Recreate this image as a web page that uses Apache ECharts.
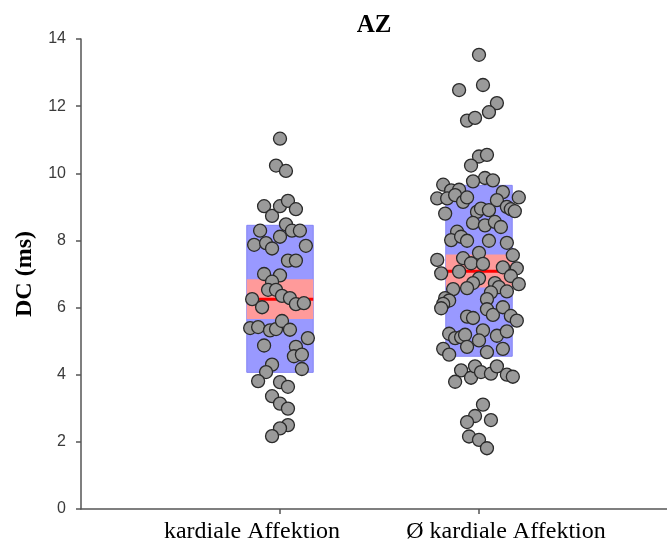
<!DOCTYPE html>
<html>
<head>
<meta charset="utf-8">
<script src="https://cdn.jsdelivr.net/npm/echarts@6/dist/echarts.min.js"></script>
<style>
  html, body { margin: 0; padding: 0; background: #ffffff; }
  #chart { width: 667px; height: 543px; }
</style>
</head>
<body>
<div id="chart"></div>
<script>
// Groups and axis ticks
const categories = ['kardiale Affektion', 'Ø kardiale Affektion'];
const yTicks = [0, 2, 4, 6, 8, 10, 12, 14];

// Per-group summary: mean, mean ± SD (blue band), 95% CI (red band)
const means   = [6.25, 7.08];
const sdLower = [4.07, 4.55];
const sdUpper = [8.45, 9.64];
const ciLower = [5.66, 6.60];
const ciUpper = [6.84, 7.58];

// DC (ms) per patient, with kardialer Affektion
const dcKardial = [
  11.03, 10.23, 10.07, 9.02, 8.73, 9.02, 9.18, 8.93, 8.48, 8.29,
  8.11, 8.29, 8.29, 7.87, 7.92, 7.76, 7.84, 7.40, 7.40, 7.00,
  6.96, 6.77, 6.53, 6.53, 6.35, 6.28, 6.25, 6.01, 6.10, 6.13,
  5.39, 5.42, 5.32, 5.36, 5.60, 5.34, 5.09, 4.87, 4.83, 4.55,
  4.60, 4.17, 4.30, 4.08, 3.81, 3.78, 3.64, 3.36, 3.14, 2.99,
  2.50, 2.40, 2.17
];
// horizontal jitter of each point (category units)
const jitterKardial = [
  0.00, -0.02, 0.03, -0.08, -0.04, 0.00, 0.04, 0.08, 0.03, -0.10,
  0.00, 0.06, 0.10, -0.13, -0.07, -0.04, 0.13, 0.04, 0.08, -0.08,
  0.00, -0.04, -0.06, -0.02, 0.01, 0.05, -0.14, -0.09, 0.08, 0.12,
  -0.15, -0.11, -0.05, -0.02, 0.01, 0.05, 0.14, -0.08, 0.08, 0.07,
  0.11, 0.11, -0.04, -0.07, -0.11, 0.00, 0.04, -0.04, 0.00, 0.04,
  0.04, 0.00, -0.04
];

// DC (ms) per patient, ohne kardiale Affektion
const dcOhne = [
  13.53, 12.48, 12.63, 12.09, 11.82, 11.57, 11.65, 10.50, 10.55,
  10.23, 9.86, 9.79, 9.76, 9.66, 9.49, 9.51, 9.25, 9.25, 9.35,
  9.15, 9.28, 9.44, 9.20, 9.28, 9.00, 8.93, 8.87, 8.80, 8.85,
  8.95, 8.90, 8.52, 8.45, 8.55, 8.40, 8.26, 8.01, 8.11, 7.99,
  7.99, 7.93,
  7.42, 7.47, 7.32, 7.63, 7.30, 7.56, 7.20, 7.17, 7.02, 7.07,
  6.94, 6.87, 6.73, 6.58, 6.55, 6.73, 6.61, 6.45, 6.48, 6.70,
  6.28, 6.21, 6.11, 5.98, 6.25, 5.95, 5.78, 6.01, 5.75, 5.61,
  5.73, 5.69, 5.22, 5.09, 5.12, 5.19, 5.32, 5.02, 5.16, 5.29,
  4.83, 4.77, 4.60, 4.67, 4.77,
  4.13, 3.79, 3.91, 4.25, 4.08, 4.03, 4.25, 4.00, 3.94, 3.11,
  2.77, 2.59, 2.65, 2.16, 2.06, 1.81
];
const jitterOhne = [
  0.00, -0.10, 0.02, 0.09, 0.05, -0.06, -0.02, 0.00, 0.04,
  -0.04, 0.03, 0.07, -0.03, -0.18, -0.14, -0.10, -0.21, -0.16, -0.12,
  -0.08, -0.06, 0.12, 0.09, 0.20, 0.14, 0.16, 0.18, -0.17, -0.01,
  0.01, 0.05, -0.03, 0.03, 0.08, 0.11, -0.11, -0.14, -0.09, -0.06,
  0.05, 0.14,
  -0.21, -0.08, -0.04, 0.00, 0.02, 0.17, 0.12, 0.19, -0.19, -0.10,
  0.16, 0.00, -0.03, -0.06, -0.13, 0.08, 0.10, 0.06, 0.14, 0.20,
  -0.17, -0.15, -0.18, -0.19, 0.04, 0.04, 0.07, 0.12, 0.16, 0.19,
  -0.06, -0.03, -0.15, -0.12, -0.09, -0.07, 0.02, 0.00, 0.09, 0.14,
  -0.06, -0.18, -0.15, 0.04, 0.12,
  -0.09, -0.12, -0.04, -0.02, 0.01, 0.06, 0.09, 0.14, 0.17, 0.02,
  -0.02, -0.06, 0.06, -0.05, 0.00, 0.04
];

// Groups sit at x = 1 and x = 2 on a numeric axis
const groupPos = categories.map((_, i) => i + 1);
const BOX_HALF = 0.167;

const bandData = categories.map((_, i) => [
  groupPos[i], sdLower[i], sdUpper[i], ciLower[i], ciUpper[i], means[i]
]);

function pointsFor(values, jitter, g) {
  return values.map((v, k) => [groupPos[g] + jitter[k], v]);
}

function renderBands(params, api) {
  const x = api.value(0);
  const rectOf = (lo, hi) => {
    const p0 = api.coord([x - BOX_HALF, hi]);
    const p1 = api.coord([x + BOX_HALF, lo]);
    return { x: p0[0], y: p0[1], width: p1[0] - p0[0], height: p1[1] - p0[1] };
  };
  const m0 = api.coord([x - BOX_HALF, api.value(5)]);
  const m1 = api.coord([x + BOX_HALF, api.value(5)]);
  return {
    type: 'group',
    children: [
      { type: 'rect', shape: rectOf(api.value(1), api.value(2)),
        style: { fill: '#9999ff', stroke: '#8585f5', lineWidth: 1 } },
      { type: 'rect', shape: rectOf(api.value(3), api.value(4)),
        style: { fill: '#ff9a9a', stroke: 'none' } },
      { type: 'line', shape: { x1: m0[0], y1: m0[1], x2: m1[0], y2: m1[1] },
        style: { stroke: '#ff0000', lineWidth: 3 } }
    ]
  };
}

// Group label for a tick value; the labels sit slightly apart from the ticks
function groupLabel(v) {
  const g = Math.round(v) - 1;
  return g === 0 ? '{l|' + categories[0] + '}' : '{r|' + categories[1] + '}';
}

const serif = 'Liberation Serif, Times New Roman, serif';
const sans = 'Liberation Sans, Arial, sans-serif';
const axisColor = '#555555';

const chart = echarts.init(document.getElementById('chart'), null, { renderer: 'canvas' });

chart.setOption({
  animation: false,
  backgroundColor: '#ffffff',
  title: {
    text: 'AZ',
    left: 369,
    top: 8,
    textAlign: 'center',
    textStyle: { fontFamily: serif, fontWeight: 'bold', fontSize: 25, color: '#000' }
  },
  grid: { left: 81, top: 39, width: 597, height: 470, outerBoundsMode: 'none' },
  xAxis: {
    type: 'value',
    min: 0,
    max: 3,
    interval: 1,
    splitLine: { show: false },
    axisLine: { lineStyle: { color: axisColor, width: 1.5 } },
    axisTick: { show: true, length: 5, customValues: groupPos,
                lineStyle: { color: axisColor, width: 1.5 } },
    axisLabel: {
      customValues: groupPos,
      formatter: groupLabel,
      margin: 11,
      fontFamily: serif,
      fontSize: 24,
      color: '#000',
      rich: {
        l: { fontFamily: serif, fontSize: 24, color: '#000', padding: [0, 56, 0, 0] },
        r: { fontFamily: serif, fontSize: 24, color: '#000', padding: [0, 0, 0, 54] }
      }
    }
  },
  yAxis: {
    type: 'value',
    min: yTicks[0],
    max: yTicks[yTicks.length - 1],
    interval: 2,
    name: 'DC (ms)',
    nameLocation: 'middle',
    nameGap: 44,
    nameRotate: 90,
    nameTextStyle: { fontFamily: serif, fontWeight: 'bold', fontSize: 24, color: '#000' },
    splitLine: { show: false },
    axisLine: { show: true, lineStyle: { color: axisColor, width: 1.5 } },
    axisTick: { show: true, length: 5, lineStyle: { color: axisColor, width: 1.5 } },
    axisLabel: { margin: 15, fontFamily: sans, fontSize: 16, color: '#3a3a3a' }
  },
  series: [
    {
      type: 'custom',
      renderItem: renderBands,
      data: bandData,
      z: 1,
      silent: true
    },
    {
      type: 'scatter',
      data: pointsFor(dcKardial, jitterKardial, 0),
      symbolSize: 13,
      itemStyle: { color: '#9a9a9a', borderColor: '#2a2a2a', borderWidth: 1.3, opacity: 1 },
      z: 3
    },
    {
      type: 'scatter',
      data: pointsFor(dcOhne, jitterOhne, 1),
      symbolSize: 13,
      itemStyle: { color: '#9a9a9a', borderColor: '#2a2a2a', borderWidth: 1.3, opacity: 1 },
      z: 3
    }
  ]
});
</script>
</body>
</html>
